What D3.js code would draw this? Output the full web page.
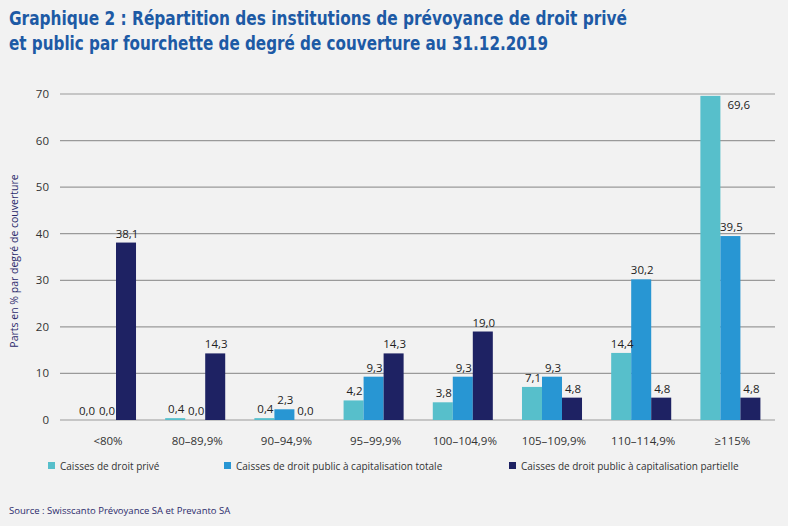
<!DOCTYPE html>
<html><head><meta charset="utf-8">
<script src="https://cdn.jsdelivr.net/npm/d3@7/dist/d3.min.js"></script>
<style>
html,body{margin:0;padding:0;background:#f2f2f2;}
svg{display:block;}
</style></head>
<body>
<svg id="c" width="788" height="526"></svg>
<script>
const categories = ["<80%", "80–89,9%", "90–94,9%", "95–99,9%", "100–104,9%", "105–109,9%", "110–114,9%", "≥115%"];
const seriesNames = ["Caisses de droit privé", "Caisses de droit public à capitalisation totale", "Caisses de droit public à capitalisation partielle"];
const prive = [0.0, 0.4, 0.4, 4.2, 3.8, 7.1, 14.4, 69.6];
const publicTotale = [0.0, 0.0, 2.3, 9.3, 9.3, 9.3, 30.2, 39.5];
const publicPartielle = [38.1, 14.3, 0.0, 14.3, 19.0, 4.8, 4.8, 4.8];
const yTicks = [0, 10, 20, 30, 40, 50, 60, 70];
const colors = ["#57bfcb", "#2896d3", "#1e2263"];
const series = [prive, publicTotale, publicPartielle];

const svg = d3.select("#c");
const font = "'Open Sans', 'Noto Sans', sans-serif";

// Title
const titleColor = "#1d5aa5";
svg.append("text").attr("x", 9).attr("y", 25)
  .attr("font-family", "'Liberation Sans Narrow', 'DejaVu Sans Condensed', sans-serif")
  .attr("font-weight", "bold").attr("font-size", 20).attr("fill", titleColor)
  .attr("textLength", 618).attr("lengthAdjust", "spacingAndGlyphs")
  .text("Graphique 2 : Répartition des institutions de prévoyance de droit privé");
svg.append("text").attr("x", 9).attr("y", 50)
  .attr("font-family", "'Liberation Sans Narrow', 'DejaVu Sans Condensed', sans-serif")
  .attr("font-weight", "bold").attr("font-size", 20).attr("fill", titleColor)
  .attr("textLength", 539).attr("lengthAdjust", "spacingAndGlyphs")
  .text("et public par fourchette de degré de couverture au 31.12.2019");

const y = d3.scaleLinear().domain([0, 70]).range([420, 94]);
const x0 = d3.scaleBand().domain(categories).range([61.4, 775]).paddingInner(0.327).paddingOuter(0.1635);
const x1 = d3.scaleBand().domain([0, 1, 2]).range([0, x0.bandwidth()]);

// gridlines
svg.append("g").selectAll("line").data(yTicks).join("line")
  .attr("x1", 60).attr("x2", 775)
  .attr("y1", d => y(d)).attr("y2", d => y(d))
  .attr("stroke", "#9a9a9a").attr("stroke-width", 1.2);

// y tick labels
svg.append("g").selectAll("text").data(yTicks).join("text")
  .attr("x", 49).attr("y", d => y(d) + 4)
  .attr("text-anchor", "end").attr("font-family", font).attr("font-size", 11.5)
  .attr("fill", "#333").text(d => d);

// y axis title
svg.append("text").attr("transform", "translate(18,261) rotate(-90)")
  .attr("text-anchor", "middle").attr("font-family", font).attr("font-size", 10.5)
  .attr("fill", "#2b2a6b").text("Parts en % par degré de couverture");

const fmt = v => v.toFixed(1).replace(".", ",");

// bars
const groups = svg.append("g").selectAll("g").data(categories).join("g")
  .attr("transform", d => `translate(${x0(d)},0)`);
groups.selectAll("rect").data((d, i) => series.map((s, k) => ({k, v: s[i]}))).join("rect")
  .attr("x", d => x1(d.k)).attr("width", x1.bandwidth())
  .attr("y", d => y(d.v)).attr("height", d => y(0) - y(d.v))
  .attr("fill", d => colors[d.k]);

// value labels
groups.selectAll("text").data((d, i) => series.map((s, k) => ({k, v: s[i]}))).join("text")
  .attr("x", d => d.v > 65 ? x1(d.k) + x1.bandwidth() + 7 : x1(d.k) + x1.bandwidth() / 2 + 1)
  .attr("y", d => d.v > 65 ? y(d.v) + 13 : y(d.v) - 5)
  .attr("text-anchor", d => d.v > 65 ? "start" : "middle")
  .attr("font-family", font).attr("font-size", 11.5).attr("fill", "#222")
  .text(d => fmt(d.v));

// x labels
svg.append("g").selectAll("text").data(categories).join("text")
  .attr("x", d => x0(d) + x0.bandwidth() / 2 + 2).attr("y", 445)
  .attr("text-anchor", "middle").attr("font-family", font).attr("font-size", 11.5)
  .attr("fill", "#333").text(d => d);

// legend
const legX = [48, 224, 509];
const leg = svg.append("g").selectAll("g").data(seriesNames).join("g")
  .attr("transform", (d, i) => `translate(${legX[i]},462)`);
leg.append("rect").attr("width", 7).attr("height", 7).attr("fill", (d, i) => colors[i]);
leg.append("text").attr("x", 12).attr("y", 7.5).attr("font-family", font).attr("font-size", 10)
  .attr("fill", "#333").text(d => d);

// source
svg.append("text").attr("x", 9).attr("y", 514).attr("font-family", font).attr("font-size", 9.5)
  .attr("fill", "#2b2a6b").text("Source : Swisscanto Prévoyance SA et Prevanto SA");
</script>
</body></html>
